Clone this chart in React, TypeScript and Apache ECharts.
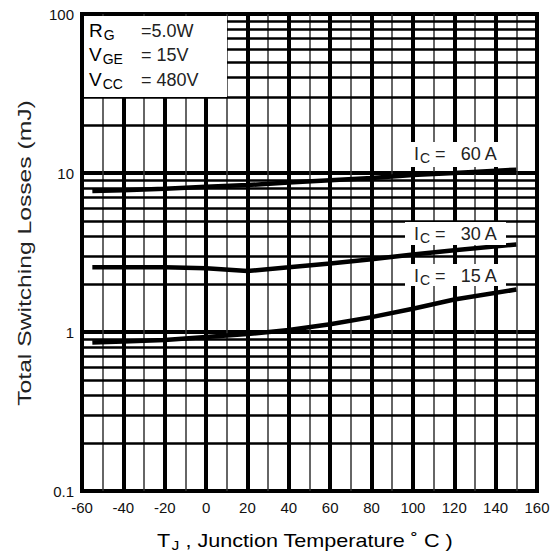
import React, { useEffect, useRef } from "react";
import * as echarts from "echarts";

const temps = [-55, -40, -20, 0, 20, 40, 60, 80, 100, 120, 150];
const loss60 = [7.7, 7.8, 7.95, 8.2, 8.4, 8.7, 9.0, 9.3, 9.7, 10.0, 10.5];
const loss30 = [2.55, 2.55, 2.55, 2.52, 2.42, 2.55, 2.7, 2.87, 3.07, 3.27, 3.55];
const loss15 = [0.86, 0.87, 0.89, 0.93, 0.97, 1.03, 1.12, 1.24, 1.4, 1.6, 1.85];
const minorGridVals = [
  0.2, 0.3, 0.4, 0.5, 0.6, 0.7, 0.8, 0.9,
  2, 3, 4, 5, 6, 7, 8, 9,
  20, 30, 40, 50, 60, 70, 80, 90,
];
const yTickLabels = ["0.1", "1", "10", "100"];

const FONT = "Liberation Sans, Arial, sans-serif";
const INK = "#222";

export default function App() {
  const ref = useRef<HTMLDivElement>(null);
  useEffect(() => {
    if (!ref.current) return;
    const chart = echarts.init(ref.current, null, { renderer: "svg" });
    const lineSeries = (name: string, vals: number[]) => ({
      name,
      type: "line",
      data: temps.map((t, i) => [t, vals[i]]),
      showSymbol: false,
      symbol: "none",
      smooth: false,
      z: 5,
      lineStyle: { color: "#000", width: 4.5 },
    });
    const labelRich = {
      a: { fontSize: 18, fontFamily: FONT, color: INK },
      s: { fontSize: 14, fontFamily: FONT, color: INK, padding: [8, 0, 0, 1] },
    };
    const curveLabel = (x: number, y: number, w: number, h: number, amp: string) => ({
      type: "group",
      z: 100,
      children: [
        { type: "rect", shape: { x, y, width: w, height: h }, style: { fill: "#fff" }, z: 100 },
        {
          type: "text",
          x: 414,
          y: y + 1,
          z: 101,
          style: { text: `{a|I}{s|C}{a| =   ${amp} A}`, rich: labelRich, fill: INK },
        },
      ],
    });
    const subRich = {
      a: { fontSize: 19, fontFamily: FONT, color: INK },
      s: { fontSize: 14, fontFamily: FONT, color: INK, padding: [9, 0, 0, 1] },
    };
    const valStyle = (text: string) => ({ text, fontSize: 18, fontFamily: FONT, fill: INK });
    const option = {
      animation: false,
      backgroundColor: "#fff",
      grid: {
        left: 82,
        right: 18,
        top: 14,
        bottom: 66,
        containLabel: false,
        outerBoundsMode: "none",
        show: true,
        borderColor: "#000",
        borderWidth: 4,
        backgroundColor: "#fff",
        z: 0,
      },
      xAxis: {
        type: "value",
        min: -60,
        max: 160,
        interval: 20,
        axisLine: { show: false },
        axisTick: { show: false },
        axisLabel: { color: "#111", fontSize: 15, fontFamily: FONT, margin: 9 },
        splitLine: { show: true, lineStyle: { color: "#000", width: 4 } },
        minorTick: { show: false, splitNumber: 2 },
        minorSplitLine: { show: true, lineStyle: { color: "#333", width: 1.5 } },
      },
      yAxis: {
        type: "log",
        logBase: 10,
        min: 0.1,
        max: 100,
        axisLine: { show: false },
        axisTick: { show: false },
        axisLabel: {
          color: "#111",
          fontSize: 15,
          fontFamily: FONT,
          margin: 8,
          formatter: (v: number) => {
            const idx = Math.round(Math.log10(v)) + 1;
            return yTickLabels[idx] ?? "";
          },
        },
        splitLine: { show: true, lineStyle: { color: "#000", width: 4 } },
        minorSplitLine: { show: false },
      },
      series: [
        {
          name: "grid",
          type: "line",
          data: [],
          z: 1,
          silent: true,
          markLine: {
            silent: true,
            symbol: "none",
            animation: false,
            label: { show: false },
            lineStyle: { color: "#000", width: 2.5, type: "solid" },
            data: minorGridVals.map((v) => ({ yAxis: v })),
          },
        },
        lineSeries("60 A", loss60),
        lineSeries("30 A", loss30),
        lineSeries("15 A", loss15),
      ],
      graphic: [
        {
          type: "text",
          x: 25,
          y: 253,
          rotation: Math.PI / 2,
          scaleX: 1.37,
          style: {
            text: "Total Switching Losses (mJ)",
            fontSize: 18,
            fontFamily: FONT,
            fill: INK,
            align: "center",
            verticalAlign: "middle",
          },
        },
        {
          type: "text",
          x: 305,
          y: 529,
          scaleX: 1.2,
          style: {
            text: "{a|T}{s|J}{a| , Junction Temperature ˚ C )}",
            align: "center",
            verticalAlign: "top",
            rich: {
              a: { fontSize: 18, fontFamily: FONT, color: INK },
              s: { fontSize: 13, fontFamily: FONT, color: INK, padding: [10, 0, 0, 1] },
            },
          },
        },
        {
          type: "group",
          z: 100,
          children: [
            { type: "rect", shape: { x: 84, y: 16, width: 143, height: 81 }, style: { fill: "#fff" }, z: 100 },
            { type: "text", x: 89, y: 19, z: 101, style: { text: "{a|R}{s|G}", rich: subRich } },
            { type: "text", x: 141, y: 22, z: 101, style: valStyle("=5.0W") },
            { type: "text", x: 89, y: 43, z: 101, style: { text: "{a|V}{s|GE}", rich: subRich } },
            { type: "text", x: 141, y: 46, z: 101, style: valStyle("= 15V") },
            { type: "text", x: 89, y: 68, z: 101, style: { text: "{a|V}{s|CC}", rich: subRich } },
            { type: "text", x: 141, y: 71, z: 101, style: valStyle("= 480V") },
          ],
        },
        curveLabel(405, 142, 107, 25, "60"),
        curveLabel(405, 222, 101, 23, "30"),
        curveLabel(405, 264, 101, 22, "15"),
      ],
    };
    chart.setOption(option as any);
    return () => chart.dispose();
  }, []);
  return (
    <div
      ref={ref}
      style={{ position: "fixed", left: 0, top: 0, width: 555, height: 557 }}
    />
  );
}
